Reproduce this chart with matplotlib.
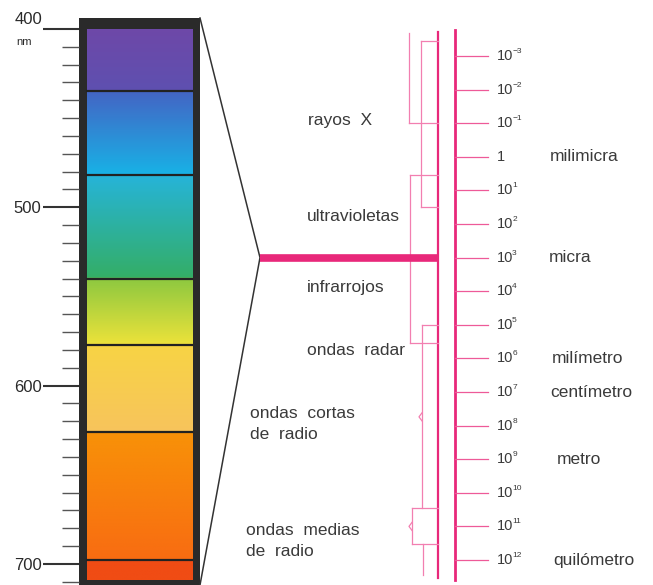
import numpy as np
import matplotlib
matplotlib.use('Agg')
import matplotlib.pyplot as plt
from matplotlib.colors import to_rgb

plt.rcParams['font.family'] = ['Liberation Sans', 'DejaVu Sans']

# visible spectrum (nm)
nm_major = [400, 500, 600, 700]
nm_minor = list(range(400, 720, 10))
band_edges = [400, 435, 482, 540, 577, 626, 698, 712]
band_top = ['#6e48a8', '#4464c4', '#26b4da', '#8cc840', '#f8d444', '#f89208', '#f04c14']
band_bottom = ['#5e50b0', '#18b2e6', '#34ae66', '#ece23a', '#f7c45c', '#f86c12', '#f04c14']

# wavelength scale (powers of ten, in milimicras)
exponents = list(range(-3, 13))
unit_exp = [0, 3, 6, 7, 9, 12]
unit_names = ['milimicra', 'micra', 'milímetro', 'centímetro', 'metro', 'quilómetro']
visible_exp = 3

# radiation bands
band_names = ['rayos  X', 'ultravioletas', 'infrarrojos', 'ondas  radar',
              'ondas  cortas\nde  radio', 'ondas  medias\nde  radio']
band_label_exp = [-1.07, 1.79, 3.9, 5.75, 7.95, 11.43]
bracket_start = [-3.68, -3.45, 0.55, 5.0, 10.45, 11.52]
bracket_end = [-1.0, 1.5, 5.55, 10.45, 11.52, 12.45]
bracket_tip = [None, None, None, 7.74, 11.0, None]

# layout
W, H = 653, 585
pink = '#e8287a'
pink_thin = '#f27fb0'
txt = '#3a3a3a'
label_x = [308, 307, 307, 307, 250, 246]
unit_x = [550, 549, 552, 550, 557, 553]
bracket_x = [409, 421, 410, 422, 412, 423]
cap_top = [False, True, True, True, True, False]
cap_bot = [True, True, True, False, True, False]
main_x = 438

fig = plt.figure(figsize=(W / 100, H / 100), dpi=100)

# ---- spectrum bar ----
ax_bar = fig.add_axes([79 / W, 0, 121 / W, (H - 18) / H])
px_per_nm = 1.783
nm_top = 400 - 11 / px_per_nm
nm_bot = 400 + (H - 29) / px_per_nm
ax_bar.set_xlim(0, 1)
ax_bar.set_ylim(nm_bot, nm_top)
ax_bar.set_facecolor('#2a2a2a')
for s in ax_bar.spines.values():
    s.set_visible(False)

# colour gradient built band by band
rows = np.arange(400.5, 709.5, 0.25)
img = np.zeros((len(rows), 1, 3))
for i in range(len(band_edges) - 1):
    a, b = band_edges[i], band_edges[i + 1]
    m = (rows >= a) & (rows < b)
    t = ((rows[m] - a) / (b - a))[:, None]
    img[m, 0, :] = (1 - t) * np.array(to_rgb(band_top[i])) + t * np.array(to_rgb(band_bottom[i]))
ax_bar.imshow(img, extent=[0.066, 0.934, rows[-1], rows[0]], aspect='auto', zorder=1)
for e in band_edges[1:-1]:
    ax_bar.plot([0.066, 0.934], [e, e], color='#222222', lw=1.6, zorder=2)

ax_bar.set_xticks([])
ax_bar.set_yticks(nm_major)
ax_bar.set_yticklabels([''] + [str(v) for v in nm_major[1:]])
ax_bar.set_yticks([v for v in nm_minor if v not in nm_major], minor=True)
ax_bar.tick_params(axis='y', which='major', length=26, width=1.5, color='#333333',
                   pad=1, labelsize=12, labelcolor='#2a2a2a')
ax_bar.tick_params(axis='y', which='minor', length=12, width=1.0, color='#555555')
ax_bar.text(-0.306, 394.4, '400', transform=ax_bar.get_yaxis_transform(),
            ha='right', va='center', fontsize=12, color='#2a2a2a')
ax_bar.text(-0.455, 407.3, 'nm', transform=ax_bar.get_yaxis_transform(),
            ha='center', va='center', fontsize=8, color='#2a2a2a')

# ---- wavelength scale ----
ax = fig.add_axes([0, 0, 1, 1], facecolor='none')
px_per_exp = 33.6
e_top = -3 - 56 / px_per_exp
e_bot = -3 + (H - 56) / px_per_exp
ax.set_xlim(0, W)
ax.set_ylim(e_bot, e_top)
ax.axis('off')

# funnel from bar to the scale
inv = ax.transData.inverted()
p_top = inv.transform(ax_bar.transAxes.transform((1, 1)))
p_bot = inv.transform(ax_bar.transAxes.transform((1, 0)))
ax.plot([p_top[0], 260, p_bot[0]], [p_top[1], visible_exp, p_bot[1]],
        color='#333333', lw=1.1)
ax.plot([260, main_x], [visible_exp, visible_exp], color=pink, lw=5.5,
        solid_capstyle='butt', zorder=3)

# main vertical lines
ax.plot([main_x, main_x], [-3.71, 12.54], color=pink, lw=1.6)
ax.plot([455, 455], [-3.77, 12.6], color=pink, lw=2.0)

# ticks and labels
for e in exponents:
    ax.plot([455, 488], [e, e], color='#ee5a98', lw=0.9)
    if e == 0:
        ax.text(497, e, '1', ha='left', va='center', fontsize=10.5, color=txt)
    else:
        ax.text(497, e, '10', ha='left', va='center', fontsize=10.5, color=txt)
        ax.annotate(str(e).replace('-', '\u2212'), (497, e), xytext=(10.9, 3.2),
                    textcoords='offset points', ha='left', va='center',
                    fontsize=6, color=txt)
for e, name, x in zip(unit_exp, unit_names, unit_x):
    ax.text(x, e, name, ha='left', va='center', fontsize=12.5, color=txt)

# brackets
for x, a, b, tip, ct, cb in zip(bracket_x, bracket_start, bracket_end,
                                 bracket_tip, cap_top, cap_bot):
    ax.plot([x, x], [a, b], color=pink_thin, lw=0.9)
    if ct:
        ax.plot([x, main_x], [a, a], color=pink_thin, lw=0.9)
    if cb:
        ax.plot([x, main_x], [b, b], color=pink_thin, lw=0.9)
    if tip is not None:
        ax.plot([x, x - 3, x], [tip - 0.12, tip, tip + 0.12], color=pink_thin, lw=0.9)

for name, e, x in zip(band_names, band_label_exp, label_x):
    ax.text(x, e, name, ha='left', va='center', fontsize=12.5, color=txt,
            linespacing=1.45)

fig.savefig('out.png', dpi=100)
